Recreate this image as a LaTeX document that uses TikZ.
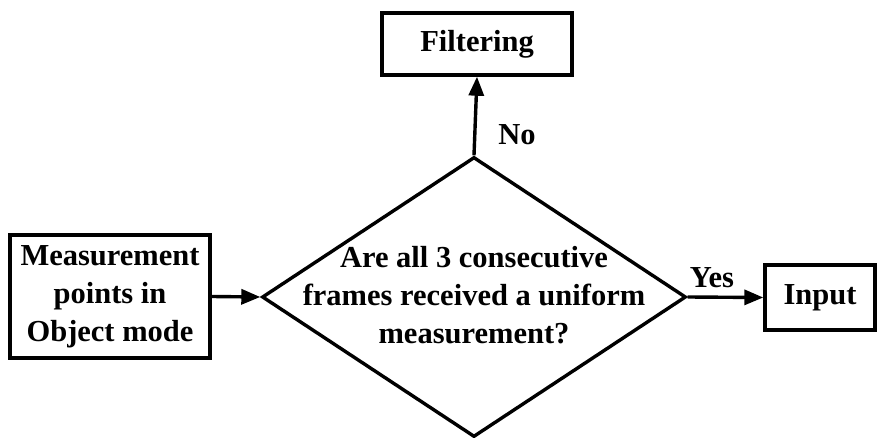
\documentclass[tikz,border=0pt]{standalone}
\usepackage{fontspec}
\setmainfont{Liberation Serif}
\usetikzlibrary{shapes.geometric,arrows.meta}
\begin{document}
\begin{tikzpicture}[x=1pt,y=1pt,
  every node/.style={font=\bfseries\fontsize{30.5}{38}\selectfont},
  box/.style={draw,line width=3.4pt,inner sep=0pt,align=center},
  flow/.style={line width=3.4pt,-{Triangle[length=19pt,width=15pt]}},
  txt/.style={inner sep=0pt,align=center}]
\useasboundingbox (0,0) rectangle (878,437);
% process boxes
\node[box,minimum width=200pt,minimum height=123pt] (meas) at (110,140.5)
  {Measurement\\points in\\Object mode};
\node[box,minimum width=190pt,minimum height=62pt] (filt) at (477,393) {Filtering};
\node[box,minimum width=110pt,minimum height=65pt] (inp) at (820,139.5) {Input};
% decision
\node[diamond,draw,line width=3.4pt,minimum width=424pt,minimum height=280pt,inner sep=0pt] (q) at (474,140) {};
\node[txt] (qtext) at (474,142) {Are all 3 consecutive\\frames received a uniform\\measurement?};
% connectors
\draw[flow] (meas.east) -- (q.west);
\draw[flow] (q.north) -- (filt.south);
\draw[flow] (q.east) -- (inp.west);
% branch labels
\node[txt] (no) at (517,302) {No};
\node[txt] (yes) at (712,159) {Yes};
\end{tikzpicture}
\end{document}
